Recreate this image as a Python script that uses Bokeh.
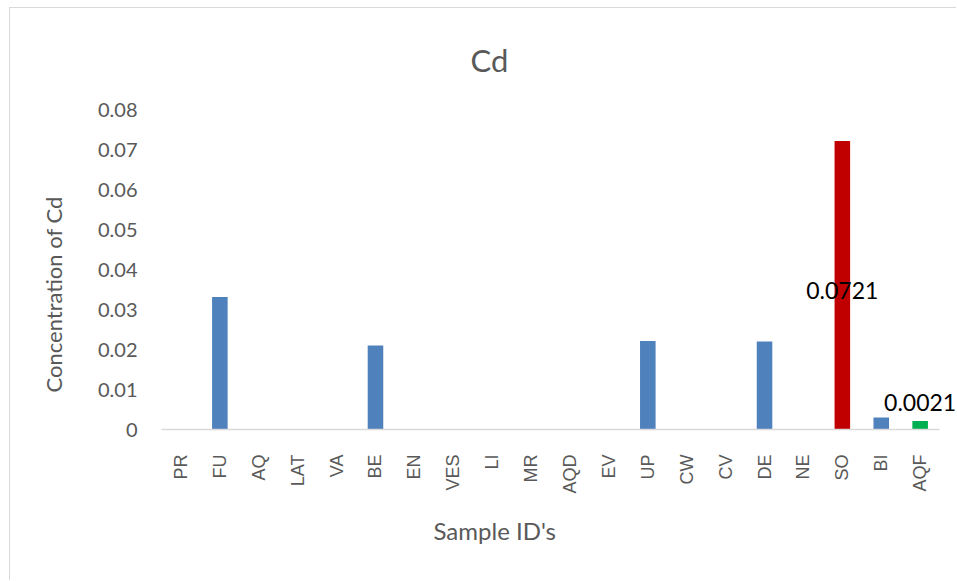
from bokeh.plotting import figure
from bokeh.models import ColumnDataSource, Range1d, LabelSet, FixedTicker, CustomJSTickFormatter, Title
from bokeh.core.properties import value
from bokeh.embed import file_html
from bokeh.resources import INLINE

categories = ["PR", "FU", "AQ", "LAT", "VA", "BE", "EN", "VES", "LI", "MR",
              "AQD", "EV", "UP", "CW", "CV", "DE", "NE", "SO", "BI", "AQF"]
cd_values = [0, 0.0331, 0, 0, 0, 0.0210, 0, 0, 0, 0,
             0, 0, 0.0221, 0, 0, 0.0220, 0, 0.0721, 0.0030, 0.0021]
bar_colors = ["#4f81bd"] * 17 + ["#c00000", "#4f81bd", "#00b050"]
y_ticks = [0, 0.01, 0.02, 0.03, 0.04, 0.05, 0.06, 0.07, 0.08]
label_cats = ["SO", "AQF"]
label_vals = [0.0721, 0.0021]
label_texts = ["0.0721", "0.0021"]

TXT = "#595959"
FONT = "Lato"

xpos = list(range(len(categories)))

p = figure(width=947, height=573, x_range=Range1d(-0.5, 19.96), y_range=Range1d(0, 0.08),
           output_backend="svg", toolbar_location=None,
           min_border_left=149, min_border_right=0, min_border_top=97, min_border_bottom=152)
p.styles = {"margin-left": "9px", "margin-top": "7px",
            "border-left": "1px solid #d9d9d9", "border-top": "1px solid #d9d9d9"}

src = ColumnDataSource(dict(x=xpos, cat=categories, val=cd_values, color=bar_colors))
p.vbar(x="x", top="val", width=0.4, fill_color="color", line_color=None, source=src)

p.xgrid.visible = False
p.ygrid.visible = False
p.outline_line_color = None

p.yaxis.ticker = FixedTicker(ticks=y_ticks)
p.yaxis.formatter = CustomJSTickFormatter(code="return tick == 0 ? '0' : tick.toFixed(2);")
p.yaxis.axis_line_color = None
p.yaxis.major_tick_line_color = None
p.yaxis.minor_tick_line_color = None
p.yaxis.major_label_text_font = FONT
p.yaxis.major_label_text_font_size = "20px"
p.yaxis.major_label_text_color = TXT
p.yaxis.major_label_standoff = 18

p.xaxis.ticker = FixedTicker(ticks=xpos)
p.xaxis.major_label_overrides = {i: c for i, c in zip(xpos, categories)}
p.xaxis.bounds = (-0.5, len(categories) - 0.5)
p.xaxis.axis_line_color = "#d9d9d9"
p.xaxis.axis_line_width = 1.5
p.xaxis.major_tick_line_color = None
p.xaxis.minor_tick_line_color = None
p.xaxis.major_label_orientation = 1.5708
p.xaxis.major_label_text_font = "Liberation Sans"
p.xaxis.major_label_text_font_size = "18px"
p.xaxis.major_label_text_color = TXT
p.xaxis.major_label_standoff = 19

# chart title
p.add_layout(Title(text="Cd", align="left", offset=309, standoff=61, text_font=FONT,
                   text_font_size="31px", text_color=TXT, text_font_style="normal"), "above")

# axis titles
p.add_layout(Title(text="Sample ID's", align="left", offset=272, standoff=35, text_font=FONT,
                   text_font_size="24px", text_color=TXT, text_font_style="normal"), "below")
p.add_layout(Title(text="Concentration of Cd", align="left", offset=37, standoff=55, text_font=FONT,
                   text_font_size="22px", text_color=TXT, text_font_style="normal"), "left")

# data labels
lx = [xpos[categories.index(c)] for c in label_cats]
lsrc = ColumnDataSource(dict(x=lx, y=[label_vals[0] / 2, label_vals[1]],
                             text=label_texts, yoff=[-5, 10],
                             base=["middle", "bottom"]))
p.add_layout(LabelSet(x="x", y="y", text="text", source=lsrc, y_offset="yoff",
                      text_align="center", text_baseline="base",
                      text_font=value(FONT), text_font_size="23px", text_color="#000000"))

open("out.html", "w").write(file_html(p, INLINE))
